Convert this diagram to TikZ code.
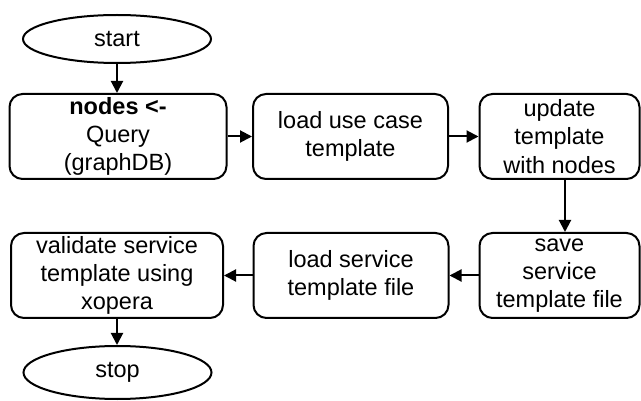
\documentclass[tikz,border=0pt]{standalone}
\usepackage{fontspec}
\setmainfont{Liberation Sans}
\usetikzlibrary{shapes.geometric,arrows.meta}
\begin{document}
\begin{tikzpicture}[x=1pt,y=-1pt,
  every node/.style={font=\fontsize{23.5}{28.2}\selectfont},
  proc/.style={draw, line width=2pt, rounded corners=13pt, minimum height=85pt, align=center, inner sep=0pt},
  term/.style={draw, ellipse, line width=2pt, minimum width=188pt, minimum height=48pt, inner sep=0pt},
  arr/.style={line width=2pt, -{Triangle[length=12pt,width=12pt]}}]
\useasboundingbox (0,0) rectangle (641,401);
\node[term] (start) at (117,39) {start};
\node[proc, minimum width=217pt] (b1) at (118,136.5) {\textbf{nodes <-}\\Query\\(graphDB)};
\node[proc, minimum width=195pt] (b2) at (350.5,136.5) {load use case\\template};
\node[proc, minimum width=160pt] (b3) at (559.5,136.5) {update\\template\\with nodes};
\node[proc, minimum width=160pt] (b4) at (559.5,275.5) {save\\service\\template file};
\node[proc, minimum width=195pt] (b5) at (351,275.5) {load service\\template file};
\node[proc, minimum width=212pt] (b6) at (117,275.5) {validate service\\template using\\xopera};
\node[term, minimum height=53pt] (stop) at (117.5,372.5) {stop};
\draw[arr] (start.south) -- (b1.north -| start.south);
\draw[arr] (b1.east) -- (b2.west);
\draw[arr] (b2.east) -- (b3.west);
\draw[arr] ([xshift=5.5pt]b3.south) -- ([xshift=5.5pt]b4.north);
\draw[arr] (b4.west) -- (b5.east);
\draw[arr] (b5.west) -- (b6.east);
\draw[arr] (b6.south) -- (b6.south |- stop.north);
\end{tikzpicture}
\end{document}
